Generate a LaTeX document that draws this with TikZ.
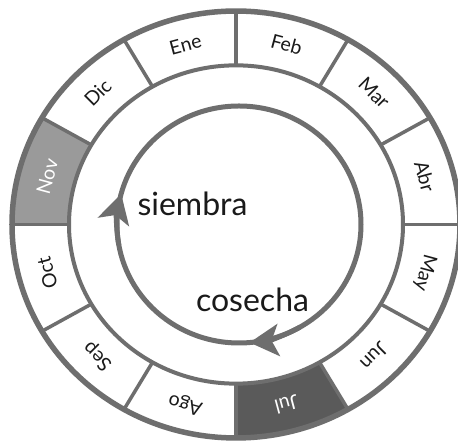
\documentclass[tikz,border=0pt]{standalone}
\usepackage{fontspec}
\setmainfont{Lato}
\usetikzlibrary{arrows.meta}
\definecolor{ringgray}{HTML}{6E6E6E}
\definecolor{novfill}{HTML}{9A9A9A}
\definecolor{julfill}{HTML}{5A5A5A}
\definecolor{txt}{HTML}{1A1A1A}
\tikzset{
  outerline/.style={draw=ringgray, line width=5.5pt},
  innerline/.style={draw=ringgray, line width=4pt},
  divider/.style={draw=ringgray, line width=3.5pt},
  cycleline/.style={draw=ringgray, line width=5pt},
  cyclehead/.style={draw=ringgray, line width=5pt, -{Stealth[length=29pt, width=32pt, inset=7pt, fill=ringgray]}},
  monthlabel/.style={font=\fontsize{19.5}{22}\selectfont, text=txt, inner sep=0pt},
  darklabel/.style={monthlabel, text=white},
  biglabel/.style={font=\fontsize{32}{36}\selectfont, text=txt, inner sep=0pt, anchor=base}
}
\begin{document}
\begin{tikzpicture}[x=1pt, y=1pt]
\useasboundingbox (-236,-218.5) rectangle (222,224.5);
\fill[white] (-236,-218.5) rectangle (222,224.5);
\begin{scope}[yscale=0.953]
  % filled months
  \fill[novfill] (150:224) arc[start angle=150, end angle=180, radius=224] -- (180:167) arc[start angle=180, end angle=150, radius=167] -- cycle;
  \fill[julfill] (-90:224) arc[start angle=-90, end angle=-60, radius=224] -- (-60:167) arc[start angle=-60, end angle=-90, radius=167] -- cycle;
  % dividers
  \foreach \a in {0,30,...,330} {
    \draw[divider] (\a:167) -- (\a:224);
  }
  % rings
  \draw[outerline] (0,0) circle[radius=224];
  \draw[innerline] (0,0) circle[radius=167];
  % labels
  \foreach \m/\a in {Ene/105, Feb/75, Mar/45, Abr/15, May/-15, Jun/-45, Ago/-105, Sep/-135, Oct/-165, Dic/135} {
    \node[monthlabel, rotate=\a-90] (m\m) at (\a:195.5) {\m};
  }
  \node[darklabel, rotate=165-90] (mNov) at (165:195.5) {Nov};
  \node[darklabel, rotate=-75-90] (mJul) at (-75:195.5) {Jul};
\end{scope}
% cycle circle
\coordinate (cc) at (3,0);
\draw[cycleline] (cc) ellipse[x radius=122, y radius=118.5];
\draw[cyclehead] ([shift={(3,0)}]190:122 and 118.5) arc[start angle=190, end angle=165, x radius=122, y radius=118.5];
\draw[cyclehead] ([shift={(3,0)}]-60:122 and 118.5) arc[start angle=-60, end angle=-85, x radius=122, y radius=118.5];
\node[biglabel] (siembra) at (-43.5,8.5) {siembra};
\node[biglabel] (cosecha) at (16.5,-87.5) {cosecha};
\end{tikzpicture}
\end{document}
